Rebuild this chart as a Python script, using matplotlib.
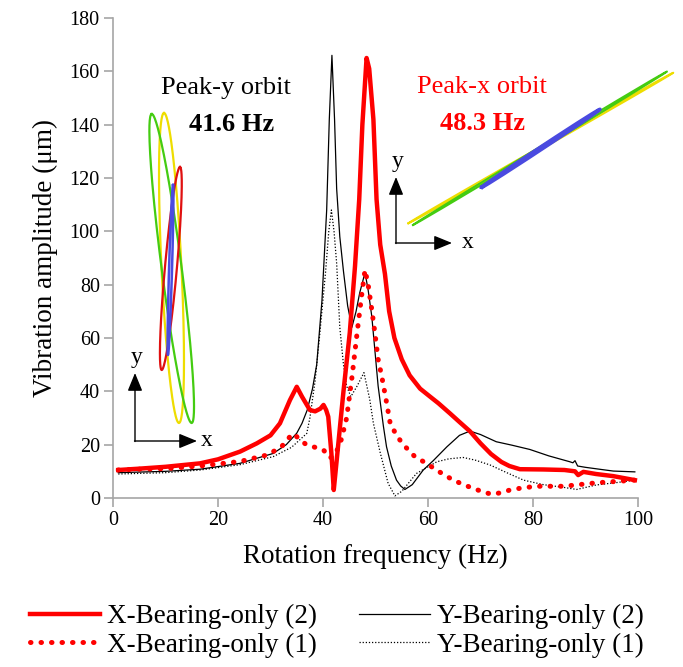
import numpy as np
import matplotlib
matplotlib.use('Agg')
import matplotlib.pyplot as plt

plt.rcParams['font.family'] = ['Liberation Serif', 'DejaVu Serif']

# X-Bearing-only (2)
f_x2 = [1, 5, 10, 16.6, 20, 24.2, 27.4, 30, 31.8, 33.7, 35, 36, 37.5, 38.5, 39.5, 40.1,
        40.6, 41, 41.6, 42.05, 42.5, 43, 43.9, 45.1, 46.1, 46.9, 47.5, 48.3, 48.8, 49.6,
        50.2, 50.9, 51.8, 52.6, 53.6, 55, 56.5, 58.5, 60.4, 62, 64.2, 66, 68, 70, 72, 74,
        75.5, 77.5, 82, 86, 88, 88.6, 89.6, 92, 95.3, 99.4]
a_x2 = [10.5, 11, 11.7, 13, 14.5, 17.4, 20.5, 23.5, 28, 36.7, 41.7, 38, 33, 32.5, 33.5, 34.9,
        33, 30.5, 16.7, 3, 12, 22, 40, 62, 87, 112, 140, 165, 161, 142,
        112, 95, 84, 70, 60, 52, 46, 41, 38, 35.5, 31.7, 28.5, 25, 20.5, 16.5, 13.5,
        12, 10.8, 10.7, 10.5, 10, 8.6, 9.8, 9, 8.2, 6.7]

# X-Bearing-only (1)
f_x1 = [1, 5, 10, 16.6, 24.2, 29.3, 32, 33.7, 34.4, 35.5, 36.9, 38.5, 40.1, 41.3, 42.3,
        43.5, 44.5, 45.5, 46.5, 47.3, 48, 48.6, 49.3, 49.9, 50.5, 51.2, 52, 52.8, 54, 55.3,
        57.5, 59.7, 62, 64.8, 66.8, 68.6, 70.5, 72.1, 74, 75.6, 78, 80.7, 85.8, 92.1, 99.4]
a_x1 = [10.5, 10.8, 11, 12, 13.7, 16.1, 19, 23, 24.2, 22, 19.9, 19, 18, 15, 16,
        22, 30, 45, 62, 75, 85.5, 80, 70.5, 61.7, 52, 45.5, 37, 28, 23.5, 20,
        15.5, 13, 10, 6.7, 5, 3.6, 2.3, 1.4, 2, 3, 3.8, 4.4, 4.4, 5.7, 6.7]

# Y-Bearing-only (2)
f_y2 = [1, 10, 16.6, 24.2, 27.4, 30.5, 33, 35, 36, 37, 38, 38.8, 39.8, 40.7, 41.2, 41.7,
        42.2, 42.6, 43.2, 43.9, 44.7, 45.5, 46.3, 47, 48, 48.6, 49.3, 50.5, 51.5, 52.1, 53, 54,
        54.8, 55.6, 57, 59.1, 61, 63.6, 66, 68, 70, 73, 76, 79.4, 83, 87, 87.6, 88, 88.5,
        90, 93, 95.3, 99.4]
a_y2 = [9.5, 10, 10.8, 13, 14.9, 16.7, 20, 24.3, 28, 33, 41, 50, 74, 108, 142, 166,
        142, 116, 98, 85, 72, 64, 70, 77, 84.5, 78, 68, 42, 27, 19.2, 12, 6.7,
        4.5, 3.2, 5, 10.5, 14, 19.2, 23.5, 25.1, 23.8, 21.1, 19.8, 18.2, 15.8, 13.6, 13.2, 14, 12,
        11.5, 10.7, 10.1, 9.8]

# Y-Bearing-only (1)
f_y1 = [1, 10, 16.6, 24.2, 30.5, 34, 36.9, 37.5, 38.5, 39.4, 40.5, 41.1, 41.6, 42.1, 42.6,
        43.2, 43.9, 44.5, 45.3, 46.5, 47.8, 48.9, 49.6, 50.9, 52.4, 53.7, 55, 57.8, 61.7,
        64, 66.7, 69, 71.8, 75, 78.2, 82, 85.8, 88.3, 92.1, 96, 99.4]
a_y1 = [9, 9.5, 10.5, 12.5, 15.5, 19, 24.2, 30, 44, 61.8, 85, 100, 108, 100, 88,
        64, 50, 42, 38, 42, 47, 37, 28, 17, 5.5, 0.8, 2.5, 9.2, 13.6,
        14.7, 15.2, 14.2, 12.4, 9.5, 6.7, 5, 4, 3.2, 4.9, 5.8, 6.7]

labels = ['X-Bearing-only (2)', 'X-Bearing-only (1)', 'Y-Bearing-only (2)', 'Y-Bearing-only (1)']

# orbit sketches (long axis end points and half width, in figure pixels)
orbit_colors = ['#eedd00', '#44cc11', '#e01010', '#4a4ae0']
orbit_y_top = [(164, 113), (151.7, 114), (180, 167), (173, 185)]
orbit_y_bot = [(179, 423), (191.7, 423), (161.7, 370), (168, 355)]
orbit_y_hw = [10, 10, 6, 1.5]
orbit_x_start = [(408.3, 223.3), (413, 225), None, (481.7, 187.3)]
orbit_x_end = [(673.3, 72.7), (667, 71.5), None, (600, 109.3)]
orbit_x_hw = [1.2, 1.2, 0, 1.2]

W, H = 683, 667
fig = plt.figure(figsize=(W / 100, H / 100), dpi=100)
ax = fig.add_axes([113 / W, 1 - 498 / H, 525 / W, 480 / H])

hy2, = ax.plot(f_y2, a_y2, color='black', lw=0.9)
hy1, = ax.plot(f_y1, a_y1, color='black', lw=0.9, linestyle=(0, (1, 1.5)))
hx1, = ax.plot(f_x1, a_x1, color='red', lw=3.6, linestyle=(0, (0.1, 2)), dash_capstyle='round')
hx2, = ax.plot(f_x2, a_x2, color='red', lw=3.2, solid_joinstyle='round')

ax.set_xlim(0, 100)
ax.set_ylim(0, 180)
ax.set_xticks(np.arange(0, 101, 20))
ax.set_yticks(np.arange(0, 181, 20))
for s in ['top', 'right']:
    ax.spines[s].set_visible(False)
for s in ['left', 'bottom']:
    ax.spines[s].set_color('#a6a6a6')
    ax.spines[s].set_linewidth(1.2)
ax.tick_params(colors='#a6a6a6', labelcolor='black', length=6.5, width=1.2, labelsize=14.5, pad=3)
ax.set_xlabel('Rotation frequency (Hz)', fontsize=19.5, labelpad=10)
ax.set_ylabel('Vibration amplitude (\u03bcm)', fontsize=19.5, labelpad=8)

fig.legend(handles=[hx2, hx1, hy2, hy1], labels=labels, ncol=2, loc='center',
           bbox_to_anchor=(0.493, 1 - 631 / H), frameon=False, fontsize=19.5,
           handlelength=2.6, handletextpad=0.26, columnspacing=1.55, labelspacing=0.13,
           borderpad=0.1)

# overlay in pixel units for the orbit pictures
ov = fig.add_axes([0, 0, 1, 1], zorder=5)
ov.set_xlim(0, W)
ov.set_ylim(H, 0)
ov.axis('off')


def orbit(p1, p2, hw, n=200):
    p1 = np.array(p1, float)
    p2 = np.array(p2, float)
    c = (p1 + p2) / 2
    major = (p1 - p2) / 2
    perp = np.array([-major[1], major[0]]) / np.hypot(*major)
    t = np.linspace(0, 2 * np.pi, n)
    pts = c + np.outer(np.cos(t), major) + np.outer(np.sin(t), perp * hw)
    return pts[:, 0], pts[:, 1]


for col, p1, p2, hw in zip(orbit_colors, orbit_y_top, orbit_y_bot, orbit_y_hw):
    xs, ys = orbit(p1, p2, hw)
    ov.plot(xs, ys, color=col, lw=1.6 if hw > 2 else 1.8)

for col, p1, p2, hw in zip(orbit_colors, orbit_x_start, orbit_x_end, orbit_x_hw):
    if p1 is None:
        continue
    xs, ys = orbit(p1, p2, hw)
    ov.plot(xs, ys, color=col, lw=1.4 if col != '#4a4ae0' else 2.6)

arrow = dict(arrowstyle='-|>,head_length=1.1,head_width=0.45', lw=1, color='black',
             shrinkA=0, shrinkB=0)
for ox, oy, top, right, ylab, xlab in [(135, 441, 373, 197, (137, 357), (207, 441)),
                                       (396, 243, 177, 452, (398, 162), (468, 243))]:
    ov.annotate('', xy=(ox, top), xytext=(ox, oy + 0.5), arrowprops=arrow)
    ov.annotate('', xy=(right, oy), xytext=(ox - 0.5, oy), arrowprops=arrow)
    ov.text(*ylab, 'y', fontsize=17, ha='center', va='center')
    ov.text(*xlab, 'x', fontsize=17, ha='center', va='center')

ov.text(226, 94, 'Peak-y orbit', fontsize=19, ha='center', va='baseline')
ov.text(232, 131, '41.6 Hz', fontsize=19, fontweight='bold', ha='center', va='baseline')
ov.text(482, 93, 'Peak-x orbit', fontsize=19, color='red', ha='center', va='baseline')
ov.text(483, 130, '48.3 Hz', fontsize=19, color='red', fontweight='bold', ha='center', va='baseline')

fig.savefig('out.png', dpi=100)
